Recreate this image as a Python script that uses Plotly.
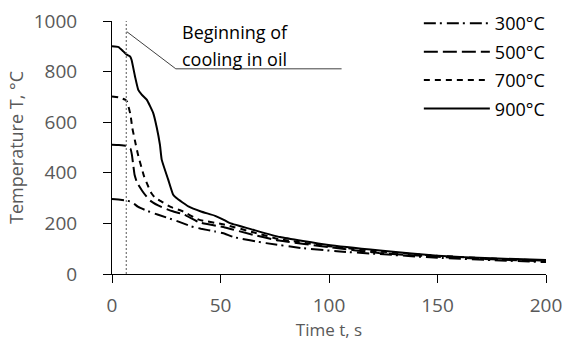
import plotly.graph_objects as go

# Cooling curves: temperature (°C) versus time (s) for four initial temperatures
t_300 = [0, 3, 6.3, 9, 12.1, 16.7, 21.3, 29, 36.7, 41, 47.5, 52, 56, 71, 87, 105, 123, 150, 175, 200]
T_300 = [296, 294, 291, 285, 265, 248, 234, 212, 188, 179, 168, 159, 146, 122, 103, 89, 79, 64, 55, 47]

t_500 = [0, 3, 6.5, 8.5, 9.2, 9.8, 10.4, 11.5, 13.8, 16, 18.1, 22.7, 28, 33.5, 40, 52, 65, 77, 100, 123, 150, 175, 200]
T_500 = [511, 510, 507, 495, 470, 430, 392, 362, 330, 305, 287, 265, 248, 234, 205, 184, 155, 132, 106, 83, 68, 58, 50]

t_700 = [0, 3, 6.3, 7, 8.5, 9.3, 10.5, 12, 14.7, 16.5, 18.1, 20, 22.7, 27, 32, 40, 52, 65, 77, 100, 123, 150, 175, 200]
T_700 = [702, 698, 688, 680, 630, 580, 530, 471, 388, 350, 320, 300, 287, 265, 250, 215, 195, 165, 138, 110, 89, 72, 61, 53]

t_900 = [0, 3, 5.2, 6.8, 8.3, 9, 10.6, 12.1, 13.7, 16, 19, 20.6, 22.1, 22.9, 25.9, 28.2, 29.7, 35.2, 41,
         47.5, 52, 54.4, 65, 77.4, 99, 123.5, 150, 175, 200]
T_900 = [900, 897, 880, 867, 860, 847, 781, 728, 709, 689, 636, 580, 510, 452, 373, 313, 300, 267, 247,
         230, 212, 201, 175, 146, 116, 93, 72, 62, 55]

series_names = ["300°C", "500°C", "700°C", "900°C"]

# Moment the specimen enters the oil bath
t_start_cooling = 6.6

x_ticks = [0, 50, 100, 150, 200]
y_ticks = [0, 200, 400, 600, 800, 1000]

FONT = "Open Sans"
GREY = "#595959"

dash_styles = ["12px,4px,2px,5px", "14px,5px", "6px,5px", "solid"]

fig = go.Figure()
for i, (tx, ty) in enumerate([(t_300, T_300), (t_500, T_500), (t_700, T_700), (t_900, T_900)]):
    fig.add_trace(go.Scatter(
        x=tx, y=ty, mode="lines", name=series_names[i],
        legendgroup=series_names[i],
        line=dict(color="black", width=2, dash=dash_styles[i], shape="spline", smoothing=0.4),
    ))

# Dotted marker for start of quenching
fig.add_shape(type="line", xref="x", yref="y",
              x0=t_start_cooling, x1=t_start_cooling, y0=0, y1=1000,
              line=dict(color="#7f7f7f", width=1.3, dash="2px,2px"))

# Leader line to the callout text
leader = [(6.8, 958), (29.4, 811), (105.8, 811)]
path = "M " + " L ".join(f"{a},{b}" for a, b in leader)
fig.add_shape(type="path", xref="x", yref="y", path=path,
              line=dict(color="#404040", width=1))

fig.add_annotation(x=31.3, y=958, xref="x", yref="y", text="Beginning of",
                   showarrow=False, xanchor="left", yanchor="middle",
                   font=dict(family=FONT, size=18, color="black"))
fig.add_annotation(x=31.3, y=850, xref="x", yref="y", text="cooling in oil",
                   showarrow=False, xanchor="left", yanchor="middle",
                   font=dict(family=FONT, size=18, color="black"))

fig.update_layout(
    width=566, height=341,
    margin=dict(l=112, r=20, t=21, b=67, autoexpand=False),
    plot_bgcolor="white", paper_bgcolor="white",
    font=dict(family=FONT, size=18, color=GREY),
    showlegend=True,
    legend=dict(xref="container", yref="container", x=0.740, y=0.985,
                xanchor="left", yanchor="top",
                font=dict(family=FONT, size=18, color="black"),
                itemwidth=66, tracegroupgap=2, bgcolor="rgba(0,0,0,0)"),
    xaxis=dict(range=[0, 200], tickvals=x_ticks, showgrid=False, zeroline=False,
               showline=True, linecolor="black", linewidth=1, automargin=False,
               ticks="outside", ticklen=8, tickcolor="black", ticklabelstandoff=6,
               tickfont=dict(family=FONT, size=19, color=GREY),
               title=dict(text="Time t, s", font=dict(family=FONT, size=17, color=GREY), standoff=17)),
    yaxis=dict(range=[0, 1000], tickvals=y_ticks, showgrid=False, zeroline=False,
               showline=True, linecolor="black", linewidth=1, automargin=False,
               ticks="outside", ticklen=8, tickcolor="black", ticklabelstandoff=22,
               tickfont=dict(family=FONT, size=19, color=GREY),
               title=dict(text="Temperature T, °C", font=dict(family=FONT, size=18, color=GREY), standoff=5)),
)

fig.write_html("out.html")
